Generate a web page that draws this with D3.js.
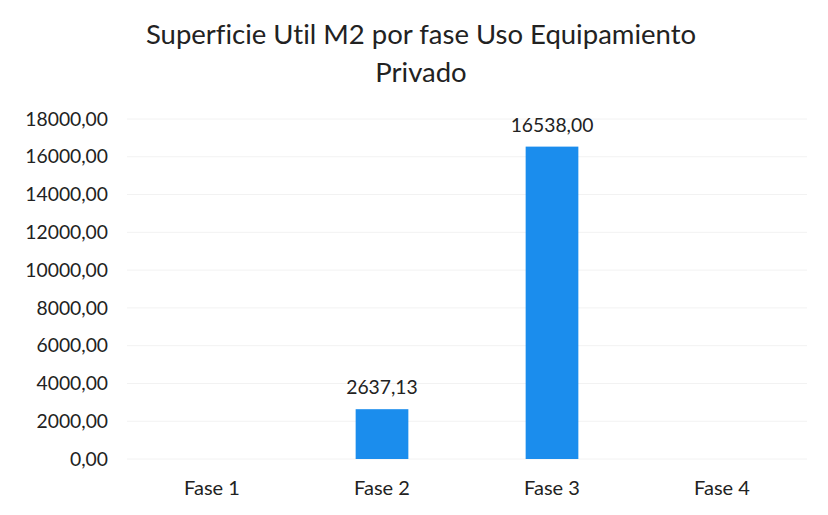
<!DOCTYPE html>
<html><head><meta charset="utf-8">
<script src="https://cdn.jsdelivr.net/npm/d3@7"></script>
<style>body{margin:0;background:#fff}text{font-family:Lato,"Open Sans",sans-serif;fill:#222;font-variant-ligatures:none;font-feature-settings:"liga" 0,"clig" 0}</style>
</head><body><svg id="c" width="828" height="515"></svg>
<script>
const categories = ["Fase 1","Fase 2","Fase 3","Fase 4"];
const values = [0, 2637.13, 16538.00, 0];
const labels = ["", "2637,13", "16538,00", ""];
const yTicks = [0,2000,4000,6000,8000,10000,12000,14000,16000,18000];
const titleLines = ["Superficie Util M2 por fase Uso Equipamiento","Privado"];

const svg = d3.select("#c");
const x = d3.scaleBand().domain(categories).range([127,807]).paddingInner(0.69).paddingOuter(0.345);
const y = d3.scaleLinear().domain([0,18000]).range([459,119]);
const fmt = d => d3.format(".2f")(d).replace(".", ",");
const rows = categories.map((c,i)=>({c, v:values[i], l:labels[i]}));

svg.append("g").selectAll("line").data(yTicks).join("line")
  .attr("x1",127).attr("x2",807).attr("y1",d=>y(d)).attr("y2",d=>y(d))
  .attr("stroke","#f2f2f2").attr("stroke-width",1);

const ya = svg.append("g").attr("transform","translate(108,0)")
  .call(d3.axisLeft(y).tickValues(yTicks).tickFormat(fmt).tickSize(0).tickPadding(0));
ya.select(".domain").remove();
ya.selectAll("text").attr("font-size",19.3).attr("fill","#222").attr("font-family","Lato");

const xa = svg.append("g").attr("transform","translate(0,459)")
  .call(d3.axisBottom(x).tickSize(0).tickPadding(22));
xa.select(".domain").remove();
xa.selectAll("text").attr("font-size",20).attr("fill","#222").attr("font-family","Lato");

svg.append("g").selectAll("rect").data(rows).join("rect")
  .attr("x",d=>x(d.c)).attr("width",x.bandwidth())
  .attr("y",d=>y(d.v)).attr("height",d=>y(0)-y(d.v)).attr("fill","#1b8ded");

svg.append("g").selectAll("text").data(rows.filter(d=>d.l)).join("text")
  .attr("x",d=>x(d.c)+x.bandwidth()/2).attr("y",d=>y(d.v)-15)
  .attr("text-anchor","middle").attr("font-size",19.3).text(d=>d.l);

svg.append("g").selectAll("text").data(titleLines).join("text")
  .attr("x",421).attr("y",(d,i)=>44+i*38).attr("text-anchor","middle")
  .attr("font-size",27.5).text(d=>d);
</script></body></html>
